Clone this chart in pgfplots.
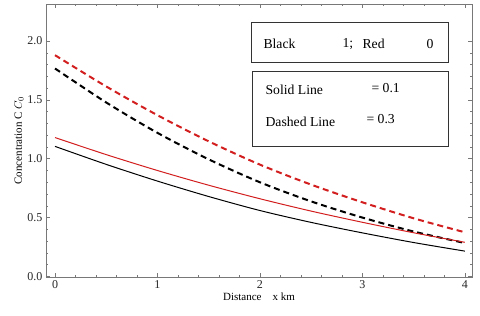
\documentclass[border=0pt]{standalone}
\usepackage{fontspec}
\setmainfont{Liberation Serif}
\usepackage{pgfplots}
\pgfplotsset{compat=1.18}
\definecolor{myred}{RGB}{210,30,30}
\definecolor{framegray}{RGB}{120,120,120}
\begin{document}
\begin{tikzpicture}
\begin{axis}[
  at={(0pt,0pt)}, anchor=south west,
  scale only axis, width=426pt, height=273pt,
  xmin=-0.088, xmax=4.07, ymin=-0.005, ymax=2.315,
  xtick={0,1,2,3,4}, ytick={0,0.5,1,1.5,2},
  minor x tick num=4, minor y tick num=4,
  tick align=inside,
  major tick length=4pt, minor tick length=2.2pt,
  axis line style={framegray, line width=0.8pt},
  every tick/.style={framegray, line width=0.6pt},
  /pgf/number format/assume math mode=true,
  xticklabel style={font=\fontsize{12}{14}\selectfont, text=black!85},
  yticklabel style={font=\fontsize{12}{14}\selectfont, text=black!85, /pgf/number format/fixed, /pgf/number format/fixed zerofill, /pgf/number format/precision=1},
  xticklabel style={/pgf/number format/fixed, /pgf/number format/precision=0},
  xlabel={Distance\quad x km},
  ylabel={Concentration C $C_0$},
  xlabel style={font=\fontsize{11}{13}\selectfont, yshift=3pt},
  ylabel style={font=\fontsize{11}{13}\selectfont, yshift=-3pt},
  clip=true,
]
\addplot[myred, line width=2pt, dash pattern=on 6pt off 4pt, smooth] coordinates {
 (0,1.88) (0.5,1.614) (1,1.37) (1.5,1.148) (2,0.95) (2.5,0.78) (3,0.63) (3.5,0.494) (4,0.375)};
\addplot[black, line width=2pt, dash pattern=on 6pt off 4pt, smooth] coordinates {
 (0,1.767) (0.5,1.478) (1,1.22) (1.5,0.995) (2,0.80) (2.5,0.6375) (3,0.50) (3.5,0.3815) (4,0.284)};
\addplot[myred, line width=1pt, smooth] coordinates {
 (0,1.18) (0.5,1.035) (1,0.90) (1.5,0.775) (2,0.66) (2.5,0.555) (3,0.46) (3.5,0.371) (4,0.29)};
\addplot[black, line width=1pt, smooth] coordinates {
 (0,1.105) (0.5,0.952) (1,0.81) (1.5,0.679) (2,0.56) (2.5,0.459) (3,0.37) (3.5,0.288) (4,0.215)};
\end{axis}
% legend boxes (pixel coordinates: x from left-46, y from top)
\draw[black!80, line width=1pt] (205pt,254pt) rectangle (402pt,214pt);
\node[anchor=west, font=\fontsize{13.7}{15}\selectfont] at (214pt,233pt) {Black};
\node[anchor=west, font=\fontsize{13.7}{15}\selectfont] at (293pt,233pt) {1;};
\node[anchor=west, font=\fontsize{13.7}{15}\selectfont] at (313pt,233pt) {Red};
\node[anchor=west, font=\fontsize{13.7}{15}\selectfont] at (377pt,233pt) {0};
\draw[black!80, line width=1pt] (206pt,205pt) rectangle (402pt,130pt);
\node[anchor=west, font=\fontsize{13.7}{15}\selectfont] at (216pt,187pt) {Solid Line};
\node[anchor=west, font=\fontsize{13.7}{15}\selectfont] at (322pt,189pt) {=\ 0.1};
\node[anchor=west, font=\fontsize{13.7}{15}\selectfont] at (216pt,155pt) {Dashed Line};
\node[anchor=west, font=\fontsize{13.7}{15}\selectfont] at (317pt,158pt) {=\ 0.3};
\pgfresetboundingbox
\path (-46pt,-39pt) rectangle (434pt,277pt);
\end{tikzpicture}
\end{document}
